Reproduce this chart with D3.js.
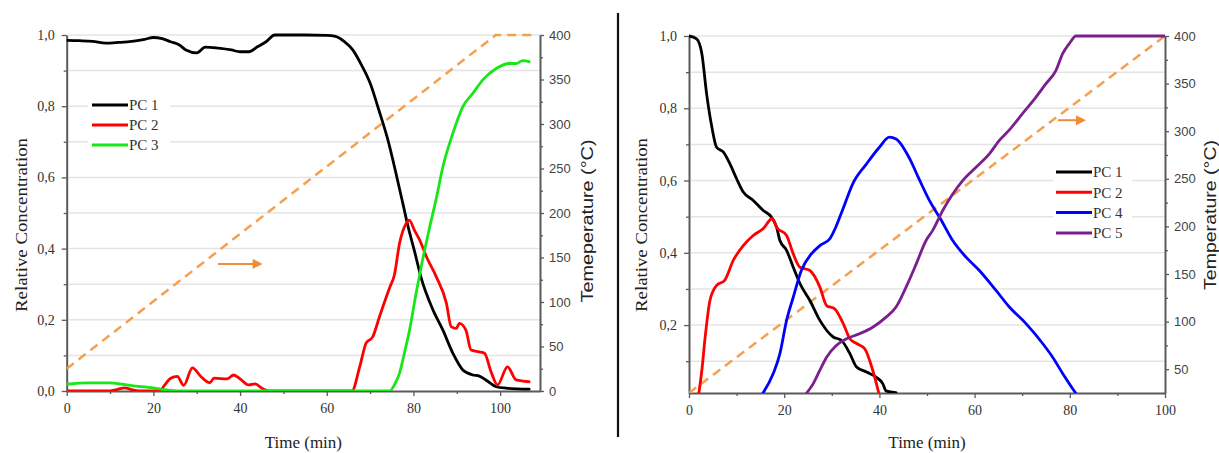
<!DOCTYPE html>
<html>
<head>
<meta charset="utf-8">
<script src="https://cdn.jsdelivr.net/npm/d3@7"></script>
<style>
  html, body { margin: 0; padding: 0; background: #fff; }
  svg { display: block; }
</style>
</head>
<body>
<svg id="chart" width="1219" height="453"></svg>
<script>
// ---- Left panel: PC 1–3 versus time, with the heating ramp ----
const leftTimeTicks = [0, 20, 40, 60, 80, 100];
const leftConcTicks = [0, 0.2, 0.4, 0.6, 0.8, 1.0];
const leftTempTicks = [0, 50, 100, 150, 200, 250, 300, 350, 400];

const leftPC1 = [[0,0.985],[3,0.984],[6,0.982],[9,0.977],[12,0.979],[15,0.982],[18,0.988],[20,0.993],[22,0.99],[24,0.981],[26,0.972],[27.5,0.958],[30,0.95],[32,0.966],[35,0.963],[38,0.958],[40,0.953],[42,0.953],[44,0.967],[46,0.981],[48,1.0],[55,1.0],[60,0.999],[62,0.996],[64,0.982],[66,0.958],[68,0.916],[70,0.865],[72,0.79],[74,0.71],[76,0.61],[77.5,0.53],[78.6,0.47],[80.3,0.39],[81.8,0.317],[84.5,0.228],[86.8,0.171],[89.1,0.106],[91.4,0.059],[93.7,0.045],[95.2,0.042],[96.7,0.031],[99.1,0.012],[101.4,0.008],[104,0.006],[106.7,0.005]];
const leftPC2 = [[0,0],[10,0],[11.5,0.004],[13.4,0.009],[15,0.004],[16.5,0],[21.5,0],[22.5,0.015],[24,0.036],[25.5,0.041],[27,0.016],[29,0.065],[31,0.04],[33,0.023],[34,0.036],[37,0.034],[38.5,0.045],[40,0.034],[42,0.017],[43.5,0.02],[45,0.008],[46.5,0],[65.8,0],[67.6,0.068],[69.1,0.135],[70.6,0.152],[72.2,0.21],[74.5,0.29],[75.6,0.326],[76.8,0.415],[78.3,0.47],[79,0.48],[80.3,0.45],[81.4,0.425],[83,0.377],[85.3,0.32],[87.6,0.247],[88.7,0.181],[89.9,0.176],[90.6,0.19],[92.1,0.171],[93.3,0.115],[95.2,0.11],[96.4,0.106],[97.9,0.054],[99.4,0.017],[101.7,0.068],[103.7,0.031],[106.7,0.026]];
const leftPC3 = [[0,0.019],[5,0.023],[10,0.023],[15,0.015],[20,0.009],[23,0.003],[26,0],[74.5,0],[75.6,0.017],[76.8,0.05],[77.9,0.106],[79.1,0.171],[80.6,0.274],[82.1,0.368],[83.7,0.458],[85.2,0.537],[86.8,0.63],[89.1,0.724],[91.4,0.799],[93.7,0.836],[96,0.874],[99.1,0.906],[102.1,0.92],[103.7,0.92],[105.2,0.928],[106.7,0.925]];
const leftTemp = [[0,25],[99,400],[107.6,400]];

// ---- Right panel: PC 1, 2, 4, 5 versus time ----
const rightTimeTicks = [0, 20, 40, 60, 80, 100];
const rightConcTicks = [0.2, 0.4, 0.6, 0.8, 1.0];
const rightTempTicks = [50, 100, 150, 200, 250, 300, 350, 400];

const rightPC1 = [[0,1.0],[1.6,0.992],[2.7,0.951],[3.7,0.84],[4.8,0.748],[5.8,0.692],[7.2,0.679],[8.6,0.646],[10,0.605],[11.4,0.568],[13.5,0.545],[15.6,0.517],[17.3,0.499],[18.4,0.471],[19.1,0.434],[20.5,0.407],[21.9,0.36],[23.3,0.315],[25.4,0.268],[27.5,0.213],[30.3,0.167],[32,0.158],[33.8,0.121],[35.2,0.084],[37.3,0.07],[39.3,0.056],[40.7,0.038],[41.4,0.018],[43.5,0.013]];
const rightPC2 = [[2,0.005],[2.7,0.075],[3.4,0.167],[4.4,0.268],[5.8,0.31],[7.5,0.324],[9.3,0.379],[11.4,0.42],[13.5,0.448],[15.6,0.467],[17.5,0.495],[18.4,0.471],[20.5,0.448],[21.9,0.397],[23.3,0.36],[25.4,0.351],[27.5,0.305],[28.9,0.254],[30.6,0.245],[32.4,0.204],[33.8,0.162],[35.2,0.149],[36.9,0.135],[38.6,0.075],[40,0.005]];
const rightPC4 = [[15.2,0.005],[17.7,0.066],[19.1,0.121],[20.5,0.213],[21.9,0.277],[23.6,0.351],[25.7,0.397],[27.5,0.42],[29.6,0.439],[30.8,0.47],[32.3,0.52],[34.4,0.591],[37.3,0.646],[40,0.692],[42.1,0.72],[43.5,0.715],[46.3,0.662],[48.2,0.608],[50.5,0.545],[53,0.49],[55.4,0.434],[58.2,0.388],[61,0.351],[64.5,0.296],[67.3,0.25],[70.8,0.204],[74.3,0.149],[76.4,0.111],[78.5,0.066],[80.6,0.024],[81.6,0.005]];
const rightPC5 = [[24.3,0.005],[26.1,0.038],[27.5,0.075],[28.9,0.111],[31,0.144],[33.1,0.162],[35.8,0.176],[38.6,0.194],[41.4,0.222],[43.5,0.25],[45.6,0.305],[47.7,0.368],[49.8,0.434],[51.2,0.462],[53.3,0.517],[55.4,0.563],[57.5,0.6],[60.3,0.637],[63.1,0.674],[65.2,0.711],[67.3,0.74],[70.1,0.786],[72.9,0.831],[75,0.868],[77.1,0.905],[78.5,0.951],[79.9,0.979],[81.3,1.0],[100,1.0]];
const rightTemp = [[0,25],[100,400]];

const leftSeries = [
  { name: "PC 1", color: "#000000", data: leftPC1 },
  { name: "PC 2", color: "#ff0000", data: leftPC2 },
  { name: "PC 3", color: "#19e619", data: leftPC3 }
];
const rightSeries = [
  { name: "PC 1", color: "#000000", data: rightPC1 },
  { name: "PC 2", color: "#ff0000", data: rightPC2 },
  { name: "PC 4", color: "#0000ff", data: rightPC4 },
  { name: "PC 5", color: "#7a1f8c", data: rightPC5 }
];

const SERIF = "'Liberation Serif', 'Times New Roman', serif";
const SANS = "'Liberation Sans', Arial, sans-serif";
const AXIS = "#5a5a5a";
const TEXT = "#333333";
const ORANGE = "#f5a04c";

const commaFmt = d3.formatLocale({ decimal: ",", thousands: ".", grouping: [3], currency: ["", ""] }).format(".1f");

const svg = d3.select("#chart");
svg.append("rect").attr("width", 1219).attr("height", 453).attr("fill", "#fff");

function panel(cfg) {
  const x = d3.scaleLinear().domain(cfg.xDomain).range([cfg.x0, cfg.x1]);
  const y = d3.scaleLinear().domain(cfg.yDomain).range([cfg.yBottom, cfg.yTop]);
  const yT = d3.scaleLinear().domain(cfg.tDomain).range([cfg.yBottom, cfg.yTop]);
  const g = svg.append("g");

  const clipId = "clip-" + cfg.id;
  svg.append("defs").append("clipPath").attr("id", clipId)
    .append("rect").attr("x", cfg.x0).attr("y", cfg.yTop - 3)
    .attr("width", cfg.x1 - cfg.x0).attr("height", cfg.yBottom - cfg.yTop + 3);

  // horizontal grid every 0.1
  const gridVals = d3.range(1, 11).map(i => i / 10).filter(v => v > cfg.yDomain[0] + 0.02);
  g.append("g").selectAll("line").data(gridVals).join("line")
    .attr("x1", cfg.x0 + 2).attr("x2", cfg.x1)
    .attr("y1", d => y(d)).attr("y2", d => y(d))
    .attr("stroke", "#e4e4e4").attr("stroke-width", 1.5);

  // axes
  const styleAxis = sel => {
    sel.select(".domain").attr("stroke", AXIS).attr("stroke-width", 2);
    sel.selectAll(".tick line").attr("stroke", AXIS).attr("stroke-width", 1.3);
  };
  const xAxis = d3.axisBottom(x).tickValues(cfg.xTicks).tickSize(5).tickSizeOuter(0).tickPadding(7).tickFormat(d3.format("d"));
  g.append("g").attr("transform", `translate(0,${cfg.yBottom})`).call(xAxis).call(styleAxis)
    .selectAll("text").attr("font-family", SERIF).attr("font-size", 14).attr("fill", TEXT);
  g.append("g").attr("transform", `translate(0,${cfg.yBottom})`)
    .call(d3.axisBottom(x).tickValues(cfg.xMinor).tickSize(3).tickSizeOuter(0).tickFormat(""))
    .call(s => { s.select(".domain").remove(); s.selectAll(".tick line").attr("stroke", AXIS).attr("stroke-width", 1.3); });

  const yAxis = d3.axisLeft(y).tickValues(cfg.yTicks).tickSize(5).tickSizeOuter(0).tickPadding(7).tickFormat(commaFmt);
  g.append("g").attr("transform", `translate(${cfg.x0},0)`).call(yAxis).call(styleAxis)
    .selectAll("text").attr("font-family", SERIF).attr("font-size", 14).attr("fill", TEXT);
  g.append("g").attr("transform", `translate(${cfg.x0},0)`)
    .call(d3.axisLeft(y).tickValues(cfg.yMinor).tickSize(3).tickSizeOuter(0).tickFormat(""))
    .call(s => { s.select(".domain").remove(); s.selectAll(".tick line").attr("stroke", AXIS).attr("stroke-width", 1.3); });

  const tAxis = d3.axisRight(yT).tickValues(cfg.tTicks).tickSize(4).tickSizeOuter(0).tickPadding(5).tickFormat(d3.format("d"));
  g.append("g").attr("transform", `translate(${cfg.x1},0)`).call(tAxis).call(styleAxis)
    .selectAll("text").attr("font-family", SANS).attr("font-size", 13).attr("fill", "#444");
  g.append("g").attr("transform", `translate(${cfg.x1},0)`)
    .call(d3.axisRight(yT).tickValues(cfg.tMinor).tickSize(3).tickSizeOuter(0).tickFormat(""))
    .call(s => { s.select(".domain").remove(); s.selectAll(".tick line").attr("stroke", AXIS).attr("stroke-width", 1.3); });

  const plot = g.append("g").attr("clip-path", `url(#${clipId})`);

  // heating ramp (right axis)
  const tLine = d3.line().x(d => x(d[0])).y(d => yT(d[1]));
  plot.append("path").datum(cfg.temp).attr("d", tLine)
    .attr("fill", "none").attr("stroke", ORANGE).attr("stroke-width", 2.5)
    .attr("stroke-dasharray", "9,6");

  // concentration profiles
  const cLine = d3.line().x(d => x(d[0])).y(d => y(d[1])).curve(d3.curveMonotoneX);
  plot.selectAll("path.pc").data(cfg.series).join("path").attr("class", "pc")
    .attr("d", d => cLine(d.data))
    .attr("fill", "none").attr("stroke", d => d.color).attr("stroke-width", 2.8)
    .attr("stroke-linejoin", "round").attr("stroke-linecap", "round");

  // arrow pointing to the temperature axis
  const ax0 = x(cfg.arrow[0]), ax1 = x(cfg.arrow[1]), ay = y(cfg.arrow[2]);
  g.append("line").attr("x1", ax0).attr("x2", ax1 - 8).attr("y1", ay).attr("y2", ay)
    .attr("stroke", "#f08c35").attr("stroke-width", 2);
  g.append("path").attr("d", `M${ax1},${ay} L${ax1 - 10},${ay - 5} L${ax1 - 10},${ay + 5} Z`).attr("fill", "#f08c35");

  // legend
  const L = cfg.legend;
  g.append("rect").attr("x", L.bx).attr("y", L.by).attr("width", L.bw).attr("height", L.bh).attr("fill", "#fff");
  const items = g.append("g").selectAll("g").data(cfg.series).join("g")
    .attr("transform", (d, i) => `translate(${L.x},${L.y + i * L.dy})`);
  items.append("line").attr("x1", 0).attr("x2", 36).attr("y1", 0).attr("y2", 0)
    .attr("stroke", d => d.color).attr("stroke-width", 3);
  items.append("text").attr("x", 37).attr("y", 0).attr("dy", "0.35em")
    .attr("font-family", SERIF).attr("font-size", 15).attr("fill", TEXT).text(d => d.name);

  // axis titles
  g.append("text").attr("x", (cfg.x0 + cfg.x1) / 2).attr("y", 448).attr("text-anchor", "middle")
    .attr("font-family", SERIF).attr("font-size", 17).attr("fill", "#222").text("Time (min)");
  g.append("text").attr("transform", `translate(${cfg.yTitleX},${cfg.yTitleY}) rotate(-90)`)
    .attr("text-anchor", "middle").attr("dy", "0.35em")
    .attr("font-family", SERIF).attr("font-size", 16).attr("fill", "#222")
    .attr("textLength", 174).attr("lengthAdjust", "spacingAndGlyphs")
    .text("Relative Concentration");
  g.append("text").attr("transform", `translate(${cfg.tTitleX},${cfg.tTitleY}) rotate(-90)`)
    .attr("text-anchor", "middle").attr("dy", "0.35em")
    .attr("font-family", SANS).attr("font-size", 17).attr("fill", "#222")
    .attr("textLength", cfg.tTitleLen).attr("lengthAdjust", "spacingAndGlyphs")
    .text(cfg.tTitle);
}

panel({
  id: "left", x0: 66.7, x1: 540, yTop: 35, yBottom: 391,
  xDomain: [0, 109.2], yDomain: [0, 1.0], tDomain: [0, 400],
  xTicks: leftTimeTicks, xMinor: [10, 30, 50, 70, 90],
  yTicks: leftConcTicks, yMinor: [0.1, 0.3, 0.5, 0.7, 0.9],
  tTicks: leftTempTicks, tMinor: d3.range(25, 400, 50),
  series: leftSeries, temp: leftTemp,
  arrow: [34.9, 45.2, 0.357],
  legend: { x: 92, y: 105, dy: 20, bx: 88, by: 93, bw: 82, bh: 64 },
  yTitleX: 21, yTitleY: 225,
  tTitleX: 587, tTitleY: 221, tTitleLen: 163, tTitle: "Temeperature (°C)"
});

panel({
  id: "right", x0: 689, x1: 1165, yTop: 36, yBottom: 393,
  xDomain: [0, 100], yDomain: [0.012, 1.0], tDomain: [25, 400],
  xTicks: rightTimeTicks, xMinor: [10, 30, 50, 70, 90],
  yTicks: rightConcTicks, yMinor: [0.1, 0.3, 0.5, 0.7, 0.9],
  tTicks: rightTempTicks, tMinor: d3.range(75, 400, 50),
  series: rightSeries, temp: rightTemp,
  arrow: [77.5, 83.4, 0.767],
  legend: { x: 1056, y: 172, dy: 20.3, bx: 1053, by: 160, bw: 79, bh: 85 },
  yTitleX: 641, yTitleY: 225,
  tTitleX: 1210, tTitleY: 215, tTitleLen: 150, tTitle: "Temperature (°C)"
});

// divider between the two panels
svg.append("line").attr("x1", 618).attr("x2", 618).attr("y1", 13).attr("y2", 437)
  .attr("stroke", "#111").attr("stroke-width", 2.2);
</script>
</body>
</html>
